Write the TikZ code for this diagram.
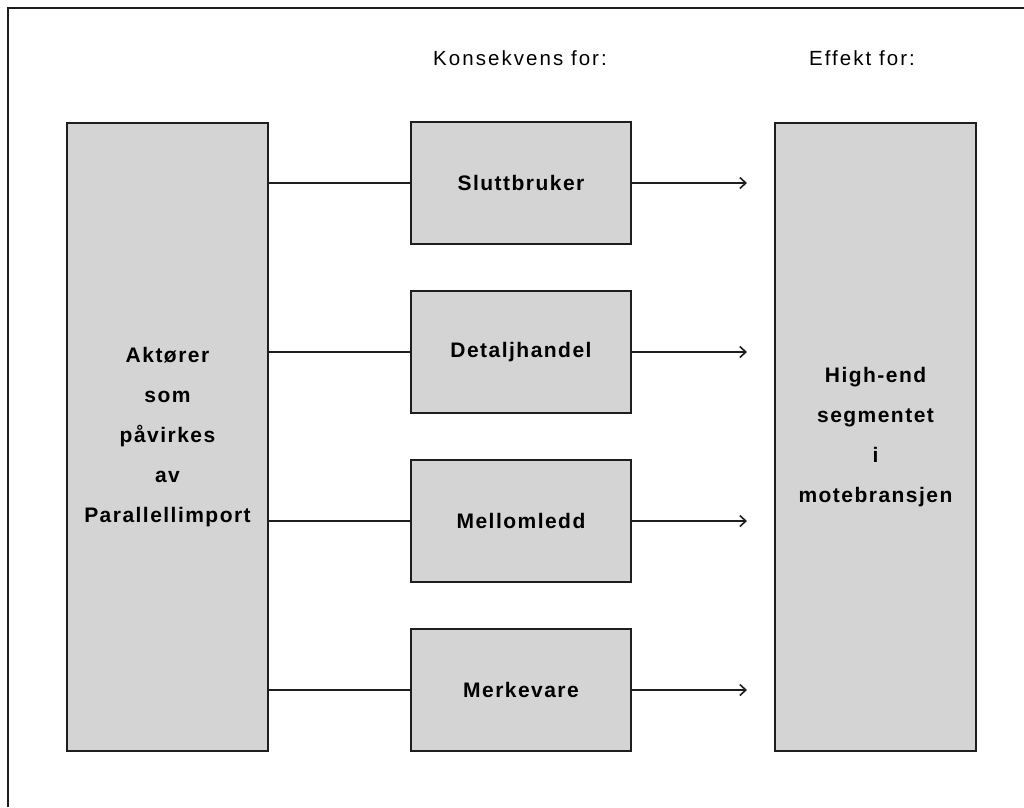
\documentclass[tikz,border=0pt]{standalone}
\usepackage{fontspec}
\setmainfont{Liberation Sans}
\newfontfamily\labelfont{Liberation Sans}[LetterSpace=7]
\newfontfamily\headfont{Liberation Sans}[LetterSpace=10]
\usetikzlibrary{arrows.meta}
\definecolor{boxfill}{HTML}{D4D4D4}
\definecolor{ink}{HTML}{1E1E1E}
\tikzset{
  box/.style={draw=ink, line width=2pt, fill=boxfill, minimum width=#1, inner sep=0pt, anchor=north west},
  tallbox/.style={box=201pt, minimum height=628pt},
  smallbox/.style={box=220pt, minimum height=122pt},
  label/.style={font=\labelfont\fontsize{21}{40}\selectfont\bfseries, align=center},
  head/.style={font=\headfont\fontsize{20.5}{24}\selectfont},
  link/.style={draw=ink, line width=1.6pt},
  flow/.style={link, -{Straight Barb[length=6pt,width=11pt,line width=1.6pt]}},
}
\begin{document}
\begin{tikzpicture}[x=1pt, y=-1pt]
  \useasboundingbox (0,0) rectangle (1024,807);
  % open frame along the left and top edges
  \draw[ink, line width=2pt] (8,807) -- (8,8) -- (1024,8);

  \node[head] (h1) at (520,58) {Konsekvens for:};
  \node[head] (h2) at (862,58) {Effekt for:};

  \node[tallbox, label] (akt) at (66,122) {Aktører\\som\\påvirkes\\av\\Parallellimport};
  \node[tallbox, label] (seg) at (774,122) {High-end\\segmentet\\i\\motebransjen};

  \node[smallbox, label] (s1) at (410,121) {Sluttbruker};
  \node[smallbox, label] (s2) at (410,290) {Detaljhandel};
  \node[smallbox, label] (s3) at (410,459) {Mellomledd};
  \node[smallbox, label] (s4) at (410,628) {Merkevare};

  % free ends of the arrows, short of the right-hand box
  \coordinate (tips) at (747,0);

  \foreach \i in {1,2,3,4} {
    \draw[link] (akt.east |- s\i.west) -- (s\i.west);
    \draw[flow] (s\i.east) -- (tips |- s\i.east);
  }
\end{tikzpicture}
\end{document}
